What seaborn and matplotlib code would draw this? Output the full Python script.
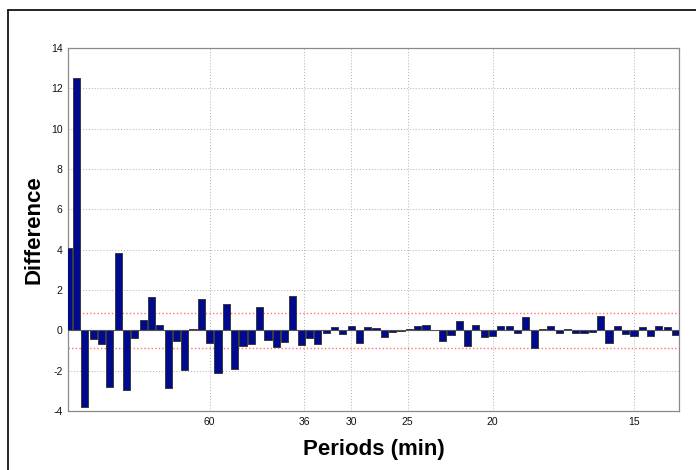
import numpy as np
import pandas as pd
import matplotlib
matplotlib.use("Agg")
import matplotlib.pyplot as plt
import seaborn as sns
from matplotlib.lines import Line2D

# difference per harmonic (index k, period = 1020 / k minutes)
diff_values = [
    4.10, 12.50, -3.80, -0.40, -0.66, -2.82, 3.85, -2.95, -0.38, 0.51,
    1.67, 0.27, -2.87, -0.50, -1.97, 0.07, 1.58, -0.63, -2.10, 1.29,
    -1.92, -0.78, -0.68, 1.16, -0.48, -0.81, -0.55, 1.69, -0.70, -0.35,
    -0.65, -0.12, 0.18, -0.15, 0.24, -0.60, 0.17, 0.13, -0.33, -0.07,
    -0.03, 0.05, 0.20, 0.25, 0.01, -0.53, -0.20, 0.46, -0.76, 0.25,
    -0.31, -0.28, 0.23, 0.23, -0.12, 0.68, -0.85, 0.07, 0.23, -0.12,
    0.05, -0.10, -0.10, -0.07, 0.70, -0.63, 0.20, -0.18, -0.27, 0.17,
    -0.25, 0.20, 0.17, -0.20,
]
harmonic = list(range(len(diff_values)))
period_ticks = [60, 36, 30, 25, 20, 15]
total_minutes = 1020
threshold = 0.89

df = pd.DataFrame({"k": harmonic, "Difference": diff_values})

sns.set_theme(style="white")
plt.rcParams["font.family"] = ["Liberation Sans", "DejaVu Sans"]
plt.rcParams["axes.unicode_minus"] = False

fig = plt.figure(figsize=(6.96, 4.70), dpi=100)
ax = fig.add_axes([0.0981, 0.1249, 0.8779, 0.7736])

sns.barplot(data=df, x="k", y="Difference", color="#000a8f", saturation=1,
            width=0.86, edgecolor="#3a3a3a", linewidth=0.7, ax=ax, zorder=3)

ax.axhline(0, color="#555555", linewidth=0.8, zorder=4)
for t in (threshold, -threshold):
    ax.axhline(t, color="#ff4d4d", linestyle=(0, (1, 1.6)), linewidth=1.0,
               alpha=0.8, zorder=2)

ax.set_xlim(0, 73.45)
ax.set_ylim(-4, 14)
ax.set_yticks(np.arange(-4, 15, 2))
ax.set_xticks([total_minutes / p for p in period_ticks])
ax.set_xticklabels([str(p) for p in period_ticks])

ax.grid(True, color="#b0b0b0", linestyle=(0, (1, 2)), linewidth=0.7, zorder=0)
ax.set_axisbelow(True)
for side in ax.spines.values():
    side.set_color("#8a8a8a")
    side.set_linewidth(0.9)
ax.tick_params(axis="both", direction="in", length=4, width=0.8,
               color="#8a8a8a", labelsize=7.5, labelcolor="#111111", pad=4)

ax.set_xlabel("Periods (min)", fontsize=16, fontweight="bold", labelpad=9,
              color="black")
ax.set_ylabel("Difference", fontsize=16, fontweight="bold", labelpad=5,
              color="black")

# outer frame (top and left edges visible)
fig.add_artist(Line2D([8 / 696, 8 / 696], [0, 1 - 10 / 470], color="black",
                      linewidth=1.2, transform=fig.transFigure))
fig.add_artist(Line2D([8 / 696, 1], [1 - 10 / 470, 1 - 10 / 470], color="black",
                      linewidth=1.2, transform=fig.transFigure))

fig.savefig("out.png", dpi=100)
